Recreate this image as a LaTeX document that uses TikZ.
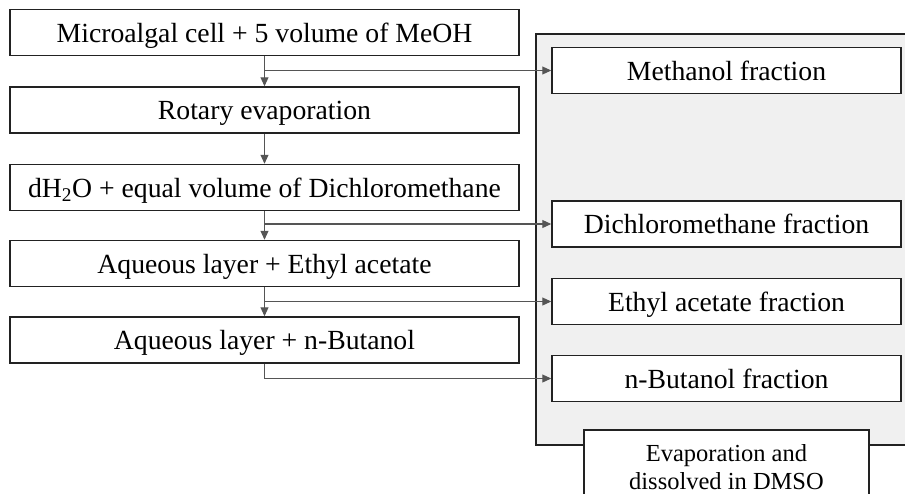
\documentclass[tikz,border=0pt]{standalone}
\usepackage{fontspec}
\setmainfont{Liberation Serif}
\usetikzlibrary{arrows.meta}
\definecolor{panel}{HTML}{F0F0F0}
\definecolor{edge}{HTML}{222222}
\definecolor{wire}{HTML}{555555}
\begin{document}
\begin{tikzpicture}[x=1pt,y=-1pt,
  box/.style={draw=edge, line width=1.5pt, fill=white, inner sep=0pt,
    minimum height=46pt, text height=21pt, text depth=2pt,
    font=\fontsize{27.7}{30}\selectfont},
  leftbox/.style={box, minimum width=509pt},
  fracbox/.style={box, minimum width=349pt},
  conn/.style={draw=wire, line width=1.1pt, -{Triangle[length=9pt,width=8pt]}}]
\useasboundingbox (0,0) rectangle (905,493);
\clip (0,0) rectangle (905,493);
% grey panel
\node (g) [draw=edge, line width=1.5pt, fill=panel, minimum width=420pt, minimum height=411pt, anchor=north west, inner sep=0pt] at (535,33) {};
% left column
\node (b1) [leftbox] at (264.5,32.5) {Microalgal cell + 5 volume of MeOH};
\node (b2) [leftbox] at (264.5,110) {Rotary evaporation};
\node (b3) [leftbox] at (264.5,187.5) {dH\textsubscript{2}O + equal volume of Dichloromethane};
\node (b4) [leftbox] at (264.5,263.5) {Aqueous layer + Ethyl acetate};
\node (b5) [leftbox] at (264.5,340) {Aqueous layer + n-Butanol};
% fractions
\node (f1) [fracbox] at (726.5,70.5) {Methanol fraction};
\node (f2) [fracbox] at (726.5,224) {Dichloromethane fraction};
\node (f3) [fracbox] at (726.5,301.5) {Ethyl acetate fraction};
\node (f4) [fracbox] at (726.5,378.5) {n-Butanol fraction};
% DMSO box
\node (d) [draw=edge, line width=1.5pt, fill=white, minimum width=285pt, minimum height=74pt, anchor=north, inner sep=0pt, align=center, font=\fontsize{24.5}{28}\selectfont] at (726.5,429) {Evaporation and\\dissolved in DMSO};
% connectors
\draw[conn] (b1.south) -- (b2.north);
\draw[conn] (b2.south) -- (b3.north);
\draw[conn] (b3.south) -- (b4.north);
\draw[conn] (b4.south) -- (b5.north);
\draw[conn] (b1.south |- f1.west) -- (f1.west);
\draw[conn] (b3.south |- f2.west) -- (f2.west);
\draw[conn] (b4.south |- f3.west) -- (f3.west);
\draw[conn] (b5.south) |- (f4.west);
\end{tikzpicture}
\end{document}
